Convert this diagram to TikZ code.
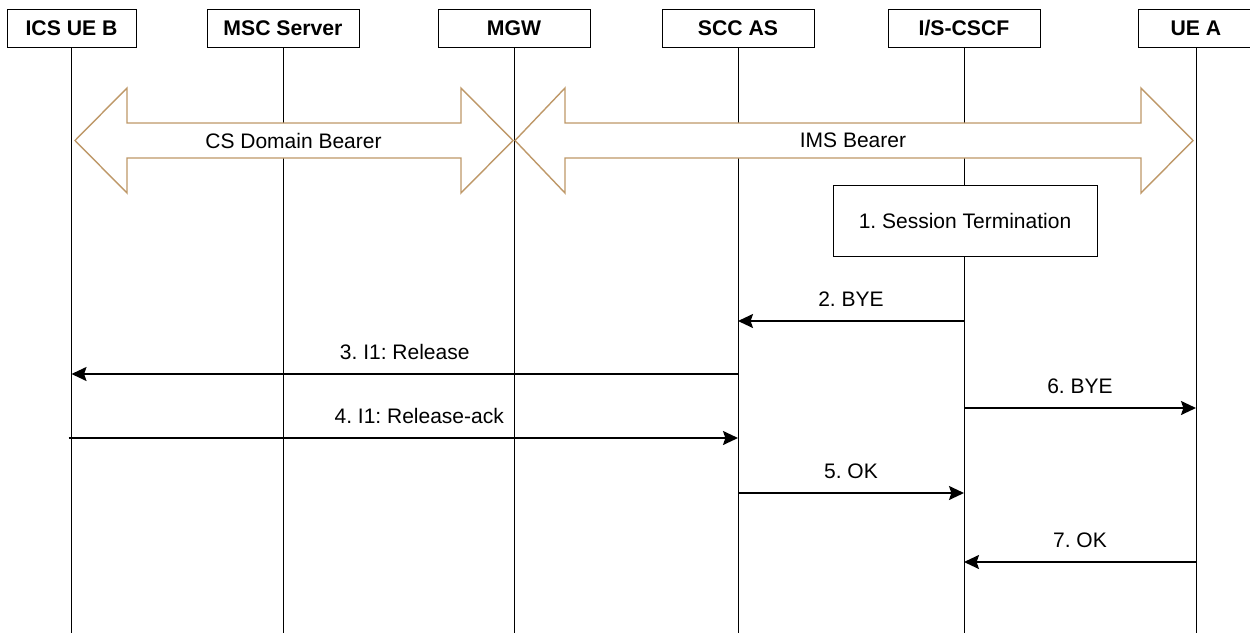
\documentclass[tikz,border=0pt]{standalone}
\usepackage{fontspec}
\setmainfont{Liberation Sans}
\definecolor{Bearer}{RGB}{190,152,104}
\usetikzlibrary{arrows.meta,positioning,calc}
\frenchspacing

\begin{document}
\begin{tikzpicture}[x=0.5pt,y=-0.5pt,
  entity/.style={draw,line width=0.5pt,fill=white,minimum width=76pt,minimum height=19pt,inner sep=0pt,font=\fontsize{10.6}{12}\selectfont\bfseries},
  stepbox/.style={draw,line width=0.5pt,fill=white,minimum width=132pt,minimum height=35.5pt,inner sep=0pt,font=\fontsize{10.5}{12}\selectfont},
  life/.style={line width=0.5pt},
  bearer/.style={draw=Bearer,line width=0.7pt,fill=white},
  msg/.style={line width=0.9pt,-{Stealth[length=7.5pt,width=7pt,inset=1.2pt]}},
  lbl/.style={anchor=base,yshift=7.5pt,font=\fontsize{10.5}{12}\selectfont}]
  \useasboundingbox (0,0) rectangle (1250,633);
  % entities
  \node[entity,minimum width=64.5pt] (ics) at (71.5,28) {ICS UE B};
  \node[entity] (msc) at (283,28) {MSC Server};
  \node[entity] (mgw) at (514,28) {MGW};
  \node[entity] (scc) at (738,28) {SCC AS};
  \node[entity] (cscf) at (964,28) {I/S-CSCF};
  \node[entity,minimum width=58pt] (uea) at (1196,28) {UE A};
  \coordinate (bot) at (0,633);
  \foreach \n in {ics,msc,mgw,scc,cscf,uea}
    \draw[life] (\n.south) -- (\n |- bot);
  % bearers
  \draw[bearer] (75,140.5) -- (127,88) -- (127,123) -- (461,123) -- (461,88) -- (513,140.5)
    -- (461,193) -- (461,158) -- (127,158) -- (127,193) -- cycle;
  \node[font=\fontsize{10.5}{12}\selectfont] (csb) at (293.5,140.5) {CS Domain Bearer};
  \draw[bearer] (515,140.5) -- (565,88) -- (565,123) -- (1141,123) -- (1141,88) -- (1193,140.5)
    -- (1141,193) -- (1141,158) -- (565,158) -- (565,193) -- cycle;
  \node[font=\fontsize{10.5}{12}\selectfont] (imsb) at (853,140.5) {IMS Bearer};
  % messages
  \node[stepbox] (sterm) at (965,220.5) {1. Session Termination};
  \coordinate (m2) at (0,321);
  \coordinate (m3) at (0,374);
  \coordinate (m6) at (0,408);
  \coordinate (m4) at (0,438);
  \coordinate (m5) at (0,493);
  \coordinate (m7) at (0,562);
  \draw[msg] (cscf |- m2) -- node[lbl] {2. BYE} (scc |- m2);
  \draw[msg] (scc |- m3) -- node[lbl] {3. I1: Release} (ics |- m3);
  \draw[msg] (cscf |- m6) -- node[lbl] {6. BYE} (uea |- m6);
  \draw[msg] ([xshift=-1.5pt]ics |- m4) -- node[lbl,xshift=8pt] {4. I1: Release-ack} (scc |- m4);
  \draw[msg] (scc |- m5) -- node[lbl] {5. OK} (cscf |- m5);
  \draw[msg] (uea |- m7) -- node[lbl] {7. OK} (cscf |- m7);
\end{tikzpicture}
\end{document}
